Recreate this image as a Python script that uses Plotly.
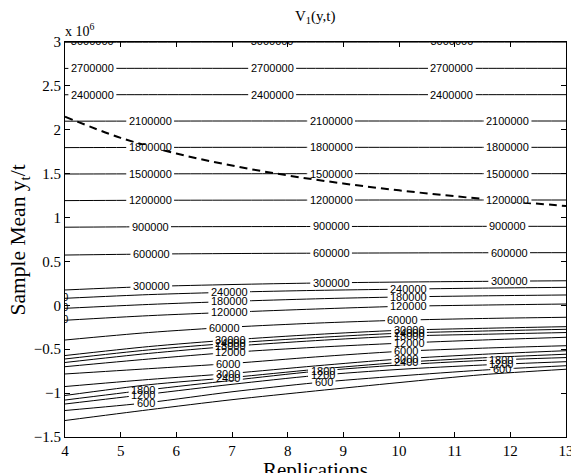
import numpy as np
import plotly.graph_objects as go

# ---------------- data (y in units of 1e6) ----------------
X_POS = [4, 5.5, 7, 8.5, 10, 11.5, 13]

L3000000 = [2.997, 2.998, 2.999, 2.999, 2.999, 2.999, 2.999]
L2700000 = [2.699, 2.700, 2.700, 2.700, 2.700, 2.700, 2.700]
L2400000 = [2.399, 2.400, 2.400, 2.400, 2.400, 2.400, 2.400]
L2100000 = [2.098, 2.099, 2.100, 2.100, 2.100, 2.100, 2.100]
L1800000 = [1.797, 1.799, 1.800, 1.800, 1.800, 1.800, 1.800]
L1500000 = [1.496, 1.498, 1.499, 1.500, 1.500, 1.500, 1.500]
L1200000 = [1.193, 1.197, 1.198, 1.199, 1.200, 1.200, 1.200]
L900000 = [0.890, 0.895, 0.897, 0.898, 0.899, 0.900, 0.900]
L600000 = [0.573, 0.584, 0.590, 0.594, 0.597, 0.599, 0.600]
L300000 = [0.175, 0.214, 0.237, 0.254, 0.265, 0.273, 0.280]
L240000 = [0.080, 0.122, 0.150, 0.170, 0.184, 0.196, 0.205]
L180000 = [-0.034, 0.010, 0.045, 0.074, 0.095, 0.108, 0.118]
L120000 = [-0.170, -0.118, -0.078, -0.042, -0.012, 0.003, 0.015]
L60000 = [-0.395, -0.310, -0.248, -0.203, -0.170, -0.150, -0.136]
L30000 = [-0.572, -0.470, -0.393, -0.332, -0.285, -0.262, -0.243]
L24000 = [-0.611, -0.508, -0.430, -0.368, -0.318, -0.293, -0.273]
L18000 = [-0.651, -0.548, -0.466, -0.402, -0.352, -0.330, -0.310]
L12000 = [-0.699, -0.612, -0.535, -0.478, -0.432, -0.395, -0.364]
L6000 = [-0.782, -0.722, -0.662, -0.588, -0.525, -0.488, -0.460]
L3000 = [-0.925, -0.845, -0.775, -0.690, -0.612, -0.558, -0.517]
L2400 = [-1.027, -0.905, -0.822, -0.730, -0.652, -0.598, -0.557]
L1800 = [-1.079, -0.962, -0.855, -0.752, -0.680, -0.628, -0.595]
L1200 = [-1.124, -1.012, -0.900, -0.800, -0.730, -0.680, -0.642]
L600 = [-1.198, -1.108, -0.985, -0.882, -0.805, -0.738, -0.688]
L_LOWEST = [-1.312, -1.190, -1.075, -0.975, -0.880, -0.790, -0.728]  # unlabelled

DASH_X = [4, 5, 6, 7, 8, 9, 10, 11, 12, 13]
DASH_Y = [2.149, 1.908, 1.730, 1.592, 1.480, 1.388, 1.310, 1.243, 1.184, 1.132]

X_TICKS = [4, 5, 6, 7, 8, 9, 10, 11, 12, 13]
X_TICK_TEXT = ["4", "5", "6", "7", "8", "9", "10", "11", "12", "13"]
Y_TICKS = [-1.5, -1, -0.5, 0, 0.5, 1, 1.5, 2, 2.5, 3]
Y_TICK_TEXT = ["\u22121.5", "\u22121", "\u22120.5", "0", "0.5", "1", "1.5", "2", "2.5", "3"]

CONTOURS = [
    (3000000, L3000000), (2700000, L2700000), (2400000, L2400000),
    (2100000, L2100000), (1800000, L1800000), (1500000, L1500000),
    (1200000, L1200000), (900000, L900000), (600000, L600000),
    (300000, L300000), (240000, L240000), (180000, L180000),
    (120000, L120000), (60000, L60000), (30000, L30000),
    (24000, L24000), (18000, L18000), (12000, L12000), (6000, L6000),
    (3000, L3000), (2400, L2400), (1800, L1800), (1200, L1200),
    (600, L600), (None, L_LOWEST),
]

# ---------------- label placement (layout) ----------------
POS_A = [4.49, 7.72, 10.95]
POS_B = [5.53, 8.78, 11.95]
POS_C = [5.55, 8.78, 11.98]
POS_D = [6.95, 10.17]
POS_E = [6.86, 10.07]
POS_F = [6.98, 10.18]
POS_G = [6.93, 10.13]
POS_H = [5.41, 8.63, 11.84]
POS_I = [5.45, 8.65, 11.85]
LABEL_POS = {
    2700000: POS_A, 2400000: POS_A,
    2100000: POS_B, 1800000: POS_B, 1500000: POS_B, 1200000: POS_B, 900000: POS_B,
    600000: POS_C, 300000: POS_C,
    240000: POS_D, 180000: POS_D, 120000: POS_D,
    60000: POS_E,
    30000: POS_F, 24000: POS_F, 18000: POS_F, 12000: POS_F,
    6000: POS_G, 3000: POS_G, 2400: POS_G,
    1800: POS_H, 1200: POS_H, 600: POS_I,
}
CLIPPED_LABELS = {3000000: POS_A}
EDGE_FRAGMENTS = [240000, 180000, 120000]

LABEL_FONT = dict(family="Liberation Sans, Arial, sans-serif", size=11, color="#000000")
SERIF = "Liberation Serif, Times New Roman, serif"

fig = go.Figure()

for lvl, ys in CONTOURS:
    fig.add_trace(go.Scatter(
        x=X_POS, y=ys, mode="lines",
        line=dict(color="black", width=1, shape="spline", smoothing=0.8),
        hoverinfo="skip", showlegend=False))

fig.add_trace(go.Scatter(
    x=DASH_X, y=DASH_Y, mode="lines",
    line=dict(color="black", width=2, dash="8px,5px", shape="spline"),
    hoverinfo="skip", showlegend=False))

line_of = {lvl: ys for lvl, ys in CONTOURS}

# labels clipped by the axes (top row and left edge fragments)
tx, ty, tt = [], [], []
for lvl, pos in CLIPPED_LABELS.items():
    for lx in pos:
        tx.append(lx)
        ty.append(float(np.interp(lx, X_POS, line_of[lvl])))
        tt.append(str(lvl))
for lvl in EDGE_FRAGMENTS:
    tx.append(3.73)
    ty.append(line_of[lvl][0])
    tt.append(str(lvl))
fig.add_trace(go.Scatter(
    x=tx, y=ty, text=tt, mode="text", textposition="middle center",
    textfont=LABEL_FONT, cliponaxis=True, hoverinfo="skip", showlegend=False))

shapes, annotations = [], []
for lvl, pos in LABEL_POS.items():
    for lx in pos:
        ly = float(np.interp(lx, X_POS, line_of[lvl]))
        txt = str(lvl)
        w = len(txt) * 0.556 * LABEL_FONT["size"] + 5
        shapes.append(dict(
            type="rect", xref="x", yref="y", xsizemode="pixel", ysizemode="pixel",
            xanchor=lx, yanchor=ly, x0=-w / 2, x1=w / 2, y0=-2.5, y1=2.5,
            fillcolor="white", line=dict(width=0), layer="above"))
        annotations.append(dict(
            x=lx, y=ly, xref="x", yref="y", text=txt, showarrow=False,
            font=LABEL_FONT, xanchor="center", yanchor="middle"))

# titles
annotations.append(dict(x=0.5, y=1.063, xref="paper", yref="paper",
                        text="V<sub>1</sub>(y,t)", showarrow=False,
                        font=dict(family=SERIF, size=15, color="black"),
                        xanchor="center", yanchor="middle"))
annotations.append(dict(x=-0.004, y=1.03, xref="paper", yref="paper",
                        text="x 10<sup>6</sup>", showarrow=False,
                        font=dict(family=SERIF, size=14, color="black"),
                        xanchor="left", yanchor="middle"))
annotations.append(dict(x=0.5, y=-0.083, xref="paper", yref="paper",
                        text="Replications", showarrow=False,
                        font=dict(family=SERIF, size=21, color="black"),
                        xanchor="center", yanchor="middle"))
annotations.append(dict(x=-0.09, y=0.50, xref="paper", yref="paper",
                        text="Sample Mean y<sub>t</sub>/t", showarrow=False,
                        textangle=-90,
                        font=dict(family=SERIF, size=21.5, color="black"),
                        xanchor="center", yanchor="middle"))

axis_common = dict(
    showgrid=False, zeroline=False, showline=True, linecolor="black", linewidth=1,
    mirror="ticks", ticks="inside", ticklen=5, tickcolor="black", tickwidth=1,
    tickfont=dict(family=SERIF, size=15, color="black"),
    automargin=False, ticklabeloverflow="allow",
)

fig.update_layout(
    width=571, height=473,
    margin=dict(l=65, r=5, t=42, b=36, autoexpand=False),
    paper_bgcolor="white", plot_bgcolor="white",
    xaxis=dict(range=[4, 13], tickmode="array", tickvals=X_TICKS, ticktext=X_TICK_TEXT,
               **axis_common),
    yaxis=dict(range=[-1.5, 3], tickmode="array", tickvals=Y_TICKS, ticktext=Y_TICK_TEXT,
               **axis_common),
    shapes=shapes,
    annotations=annotations,
    showlegend=False,
)

fig.write_html(
    "out.html",
    config={"displayModeBar": False, "staticPlot": True},
    post_script="document.body.style.margin='0px';document.body.style.padding='0px';"
                "document.body.style.overflow='hidden';",
)
